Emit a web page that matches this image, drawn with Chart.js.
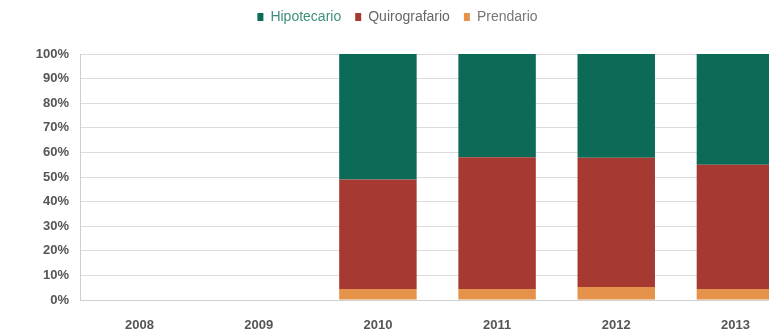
<!DOCTYPE html>
<html>
<head>
<meta charset="utf-8">
<script src="https://cdn.jsdelivr.net/npm/chart.js@4"></script>
<style>
  html, body { margin: 0; padding: 0; background: #fff; overflow: hidden; }
  .chartBox { width: 800px; height: 334px; }
</style>
</head>
<body>
<div class="chartBox"><canvas id="myChart"></canvas></div>
<script>
const years = ['2008', '2009', '2010', '2011', '2012', '2013'];
// shares in %, bottom to top of each bar
const prendario     = [null, null, 4.5, 4.5, 5.3, 4.5];
const quirografario = [null, null, 44.5, 53.5, 52.5, 50.5];
const hipotecario   = [null, null, 51.0, 42.0, 42.2, 45.0];
const yTicks = [0, 10, 20, 30, 40, 50, 60, 70, 80, 90, 100];

const font = '"Liberation Sans", Arial, sans-serif';

const data = {
  labels: years,
  datasets: [
    { label: 'Prendario', data: prendario, backgroundColor: '#e5934a', textColor: '#777' },
    { label: 'Quirografario', data: quirografario, backgroundColor: '#a63a33', textColor: '#666' },
    { label: 'Hipotecario', data: hipotecario, backgroundColor: '#0b6b57', textColor: '#3f8f7c' }
  ]
};

// push the plot down a bit below the legend
const legendSpace = {
  id: 'legendSpace',
  beforeInit(chart) {
    const fit = chart.legend.fit;
    chart.legend.fit = function () {
      fit.bind(chart.legend)();
      this.height += 20;
    };
  }
};

const config = {
  type: 'bar',
  data,
  options: {
    responsive: true,
    maintainAspectRatio: false,
    animation: false,
    layout: { padding: { left: 0, right: 5, top: -4, bottom: 2 } },
    datasets: {
      bar: { barPercentage: 0.65, categoryPercentage: 1, borderWidth: 0 }
    },
    scales: {
      x: {
        stacked: true,
        afterFit: (scale) => { scale.height = 32; },
        grid: { display: false, drawTicks: false },
        border: { display: true, color: '#cfcfcf' },
        ticks: { color: '#555', padding: 18, maxRotation: 0, font: { family: font, size: 13, weight: 'bold' } }
      },
      y: {
        stacked: true,
        min: 0,
        max: 100,
        afterFit: (scale) => { scale.width = 80; },
        afterBuildTicks: (scale) => { scale.ticks = yTicks.map(v => ({ value: v })); },
        grid: { color: '#dcdcdc', drawTicks: false },
        border: { display: true, color: '#cfcfcf' },
        ticks: {
          color: '#555',
          padding: 11,
          font: { family: font, size: 13, weight: 'bold' },
          callback: (v) => v + '%'
        }
      }
    },
    plugins: {
      tooltip: { enabled: false },
      legend: {
        position: 'top',
        reverse: true,
        labels: {
          boxWidth: 6,
          boxHeight: 8,
          padding: 14,
          font: { family: font, size: 14 },
          generateLabels: (chart) => {
            const items = Chart.defaults.plugins.legend.labels.generateLabels(chart);
            items.forEach(it => { it.fontColor = chart.data.datasets[it.datasetIndex].textColor; it.lineWidth = 0; });
            return items;
          }
        }
      }
    }
  },
  plugins: [legendSpace]
};

const myChart = new Chart(document.getElementById('myChart'), config);
</script>
</body>
</html>
